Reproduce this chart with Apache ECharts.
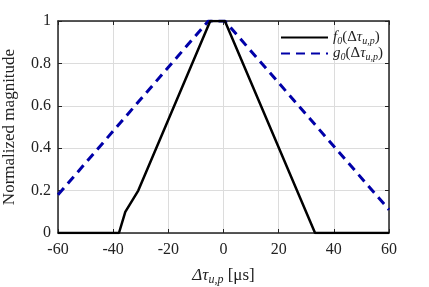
<!DOCTYPE html>
<html><head><meta charset="utf-8">
<script src="https://cdn.jsdelivr.net/npm/echarts@6/dist/echarts.min.js"></script>
<style>html,body{margin:0;padding:0;background:#fff}#c{width:429px;height:287px}</style>
</head><body><div id="c"></div>
<script>
const fX = [-60, -37.9, -35.6, -30.9, -4.8, 0.5, 33.2, 60];
const fY = [0, 0, 0.1, 0.2, 1, 1, 0, 0];
const gX = [-60, -5.5, 0.5, 60];
const gY = [0.18, 1, 1, 0.11];
const xTicks = [-60, -40, -20, 0, 20, 40, 60];
const yTicks = [0, 0.2, 0.4, 0.6, 0.8, 1];
const seriesNames = ['f0', 'g0'];

const FONT = 'Liberation Serif';
const chart = echarts.init(document.getElementById('c'), null, {renderer: 'canvas'});
const rich = {
  i: {fontFamily: FONT, fontStyle: 'italic', fontSize: 15, color: '#222'},
  s: {fontFamily: FONT, fontStyle: 'italic', fontSize: 10, color: '#222', padding: [7, 0, 0, 0]},
  n: {fontFamily: FONT, fontSize: 15, color: '#222'},
  t: {fontFamily: FONT, fontStyle: 'italic', fontSize: 15, color: '#222'}
};
function legendText(name) {
  return '{i|' + name[0] + '}{s|0}{n|(Δ}{t|τ}{s|u,p}{n|)}';
}
const axisLineStyle = {color: '#222', width: 1.5};
chart.setOption({
  animation: false,
  backgroundColor: '#fff',
  grid: {left: 58, right: 40, top: 21, bottom: 54, containLabel: false, outerBoundsMode: 'none'},
  legend: {
    right: 41, top: 25, orient: 'vertical', itemGap: 0, itemWidth: 47, itemHeight: 14,
    formatter: legendText,
    itemStyle: {opacity: 0},
    textStyle: {rich: rich, fontFamily: FONT},
    data: seriesNames
  },
  xAxis: [{
    type: 'value', min: xTicks[0], max: xTicks[xTicks.length - 1], interval: 20,
    axisLine: {show: true, onZero: false, lineStyle: axisLineStyle},
    axisTick: {show: true, inside: true, length: 4, lineStyle: {color: '#222'}},
    splitLine: {show: true, lineStyle: {color: '#dcdcdc', width: 1}},
    axisLabel: {fontFamily: FONT, fontSize: 16, color: '#222', margin: 9},
    name: '{t|Δτ}{s|u,p}{n| [μs]}', nameLocation: 'middle', nameGap: 32,
    nameTextStyle: {rich: {
      t: {fontFamily: FONT, fontStyle: 'italic', fontSize: 17, color: '#222'},
      s: {fontFamily: FONT, fontStyle: 'italic', fontSize: 12, color: '#222', padding: [9, 0, 0, 0]},
      n: {fontFamily: FONT, fontSize: 17, color: '#222'}
    }}
  }, {
    type: 'value', position: 'top', min: xTicks[0], max: xTicks[xTicks.length - 1], interval: 20,
    axisLine: {show: true, onZero: false, lineStyle: axisLineStyle},
    axisTick: {show: true, inside: true, length: 4, lineStyle: {color: '#222'}},
    splitLine: {show: false}, axisLabel: {show: false}
  }],
  yAxis: [{
    type: 'value', min: 0, max: 1, interval: 0.2,
    axisLine: {show: true, onZero: false, lineStyle: axisLineStyle},
    axisTick: {show: true, inside: true, length: 4, lineStyle: {color: '#222'}},
    splitLine: {show: true, lineStyle: {color: '#dcdcdc', width: 1}},
    axisLabel: {fontFamily: FONT, fontSize: 16, color: '#222', margin: 7,
      formatter: v => String(Math.round(v * 10) / 10)},
    name: 'Normalized magnitude', nameLocation: 'middle', nameGap: 40,
    nameTextStyle: {fontFamily: FONT, fontSize: 17, color: '#222'}
  }, {
    type: 'value', position: 'right', min: 0, max: 1, interval: 0.2,
    axisLine: {show: true, onZero: false, lineStyle: axisLineStyle},
    axisTick: {show: true, inside: true, length: 4, lineStyle: {color: '#222'}},
    splitLine: {show: false}, axisLabel: {show: false}
  }],
  series: [{
    name: 'f0', type: 'line', showSymbol: false, symbol: 'none',
    data: fX.map((x, i) => [x, fY[i]]),
    lineStyle: {color: '#000', width: 2.5}, itemStyle: {color: '#000'}, z: 3
  }, {
    name: 'g0', type: 'line', showSymbol: false, symbol: 'none',
    data: gX.map((x, i) => [x, gY[i]]),
    lineStyle: {color: '#0000a8', width: 3, type: [9, 6]}, itemStyle: {color: '#0000a8'}, z: 2
  }]
});
</script></body></html>
